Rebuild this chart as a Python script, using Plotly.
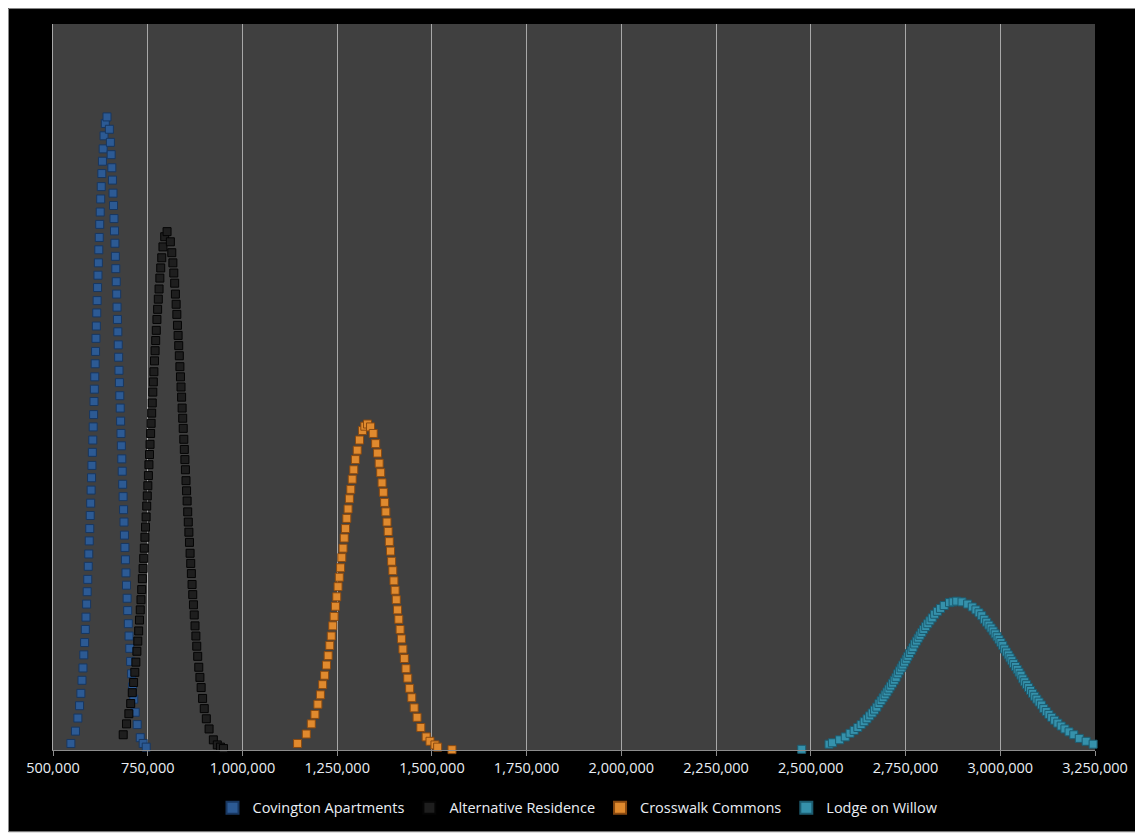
import plotly.graph_objects as go

# ---------------- data ----------------
tick_values = [500000, 750000, 1000000, 1250000, 1500000, 1750000, 2000000,
               2250000, 2500000, 2750000, 3000000, 3250000]
tick_labels = ["500,000", "750,000", "1,000,000", "1,250,000", "1,500,000",
               "1,750,000", "2,000,000", "2,250,000", "2,500,000", "2,750,000",
               "3,000,000", "3,250,000"]

series_names = ["Covington Apartments", "Alternative Residence",
                "Crosswalk Commons", "Lodge on Willow"]

covington_x = [547200, 559300, 565600, 570100, 573600, 576500, 579100, 581300, 583400, 585300,
               587000, 588700, 590200, 591700, 593100, 594400, 595700, 597000, 598200, 599400,
               600600, 601700, 602800, 603900, 605000, 606100, 607100, 608200, 609200, 610200,
               611300, 612300, 613400, 614400, 615500, 616500, 617600, 618700, 619800, 620900,
               622100, 623300, 624600, 625900, 627300, 628900, 630500, 632400, 634700, 638000,
               642500, 648800, 651500, 653500, 655300, 656900, 658400, 659700, 661000, 662300,
               663500, 664600, 665800, 666900, 668000, 669000, 670100, 671100, 672200, 673200,
               674200, 675300, 676300, 677400, 678400, 679500, 680500, 681600, 682700, 683900,
               685000, 686200, 687400, 688600, 689900, 691200, 692600, 694000, 695600, 697100,
               698800, 700700, 702600, 704800, 707200, 709900, 713100, 717000, 722200, 730300,
               738000, 746000]
covington_y = [0.9, 2.6, 4.4, 6.1, 7.8, 9.6, 11.3, 13.1, 14.8, 16.6,
               18.3, 20.1, 21.8, 23.5, 25.3, 27.0, 28.8, 30.5, 32.3, 34.0,
               35.8, 37.5, 39.2, 41.0, 42.7, 44.5, 46.2, 48.0, 49.7, 51.4,
               53.2, 54.9, 56.7, 58.4, 60.2, 61.9, 63.7, 65.4, 67.1, 68.9,
               70.6, 72.4, 74.1, 75.9, 77.6, 79.4, 81.1, 82.8, 84.6, 86.3,
               87.2, 85.5, 83.7, 82.0, 80.2, 78.5, 76.7, 75.0, 73.2, 71.5,
               69.8, 68.0, 66.3, 64.5, 62.8, 61.0, 59.3, 57.6, 55.8, 54.1,
               52.3, 50.6, 48.8, 47.1, 45.3, 43.6, 41.9, 40.1, 38.4, 36.6,
               34.9, 33.1, 31.4, 29.6, 27.9, 26.2, 24.4, 22.7, 20.9, 19.2,
               17.4, 15.7, 14.0, 12.2, 10.5, 8.7, 7.0, 5.2, 3.5, 1.7,
               0.9, 0.4]

alternative_x = [685300, 694000, 700200, 705100, 709200, 712700, 715900, 718700, 721400, 723800,
                 726100, 728200, 730300, 732200, 734100, 735900, 737700, 739400, 741000, 742600,
                 744200, 745800, 747300, 748800, 750300, 751800, 753200, 754700, 756100, 757600,
                 759000, 760400, 761900, 763400, 764800, 766300, 767900, 769400, 771000, 772600,
                 774300, 776100, 777900, 779900, 782000, 784300, 787000, 790200, 794800, 801000,
                 809800, 813500, 816400, 818800, 821100, 823100, 825000, 826800, 828500, 830200,
                 831800, 833400, 834900, 836400, 837900, 839400, 840800, 842300, 843700, 845200,
                 846600, 848100, 849500, 851000, 852500, 854000, 855500, 857000, 858600, 860200,
                 861800, 863500, 865200, 867000, 868800, 870700, 872700, 874800, 877100, 879400,
                 881900, 884700, 887700, 891000, 894800, 899200, 904700, 911900, 923200, 933600,
                 942000, 950000]
alternative_y = [2.1, 3.6, 5.0, 6.4, 7.9, 9.3, 10.7, 12.1, 13.6, 15.0,
                 16.4, 17.9, 19.3, 20.7, 22.1, 23.6, 25.0, 26.4, 27.8, 29.3,
                 30.7, 32.1, 33.6, 35.0, 36.4, 37.8, 39.3, 40.7, 42.1, 43.6,
                 45.0, 46.4, 47.8, 49.3, 50.7, 52.1, 53.6, 55.0, 56.4, 57.8,
                 59.3, 60.7, 62.1, 63.5, 65.0, 66.4, 67.8, 69.3, 70.7, 71.4,
                 70.0, 68.5, 67.1, 65.7, 64.3, 62.8, 61.4, 60.0, 58.5, 57.1,
                 55.7, 54.3, 52.8, 51.4, 50.0, 48.6, 47.1, 45.7, 44.3, 42.8,
                 41.4, 40.0, 38.6, 37.1, 35.7, 34.3, 32.8, 31.4, 30.0, 28.6,
                 27.1, 25.7, 24.3, 22.8, 21.4, 20.0, 18.6, 17.1, 15.7, 14.3,
                 12.9, 11.4, 10.0, 8.6, 7.1, 5.7, 4.3, 2.9, 1.4, 0.7,
                 0.4, 0.2]

crosswalk_x = [1145400, 1168500, 1181700, 1191300, 1199100, 1205800, 1211600, 1216800, 1221700, 1226200,
               1230400, 1234400, 1238200, 1241900, 1245400, 1248900, 1252300, 1255600, 1258900, 1262200,
               1265500, 1268700, 1272000, 1275400, 1278800, 1282300, 1285900, 1289700, 1293800, 1298100,
               1303000, 1308900, 1316700, 1323000, 1330000, 1338000, 1345100, 1351500, 1356500, 1360800,
               1364800, 1368400, 1371900, 1375200, 1378400, 1381500, 1384600, 1387600, 1390700, 1393700,
               1396700, 1399800, 1402900, 1406000, 1409300, 1412600, 1416000, 1419600, 1423400, 1427300,
               1431600, 1436200, 1441200, 1446800, 1453200, 1460900, 1470700, 1484800, 1495000, 1508000,
               1515100, 1553000]
crosswalk_y = [0.9, 2.2, 3.6, 4.9, 6.3, 7.6, 9.0, 10.3, 11.7, 13.0,
               14.4, 15.7, 17.1, 18.4, 19.8, 21.1, 22.5, 23.8, 25.1, 26.5,
               27.8, 29.2, 30.5, 31.9, 33.2, 34.6, 35.9, 37.3, 38.6, 40.0,
               41.3, 42.7, 44.0, 44.6, 44.9, 44.5, 43.6, 42.2, 40.9, 39.5,
               38.2, 36.8, 35.5, 34.1, 32.8, 31.4, 30.1, 28.7, 27.4, 26.0,
               24.7, 23.3, 22.0, 20.7, 19.3, 18.0, 16.6, 15.3, 13.9, 12.6,
               11.2, 9.9, 8.5, 7.2, 5.8, 4.5, 3.1, 1.8, 1.2, 0.7,
               0.4, 0.05]

lodge_x = [2476000, 2548000, 2557000, 2576000, 2590900, 2603500, 2614300, 2624000, 2632700, 2640800,
           2648300, 2655300, 2661900, 2668200, 2674200, 2679900, 2685500, 2690800, 2696100, 2701100,
           2706100, 2710900, 2715700, 2720300, 2725000, 2729500, 2734000, 2738500, 2742900, 2747300,
           2751800, 2756200, 2760600, 2765100, 2769600, 2774100, 2778700, 2783400, 2788100, 2793000,
           2798000, 2803200, 2808600, 2814300, 2820300, 2826800, 2834000, 2842100, 2851900, 2866000,
           2875500, 2885000, 2899000, 2913900, 2926100, 2935700, 2943800, 2951100, 2957800, 2964100,
           2970000, 2975700, 2981200, 2986500, 2991700, 2996700, 3001700, 3006600, 3011500, 3016300,
           3021100, 3025800, 3030600, 3035300, 3040100, 3044900, 3049700, 3054600, 3059500, 3064500,
           3069500, 3074700, 3079900, 3085300, 3090800, 3096500, 3102400, 3108500, 3114800, 3121400,
           3128300, 3135600, 3143400, 3151700, 3160700, 3170600, 3181500, 3194000, 3208600, 3226600,
           3245000]
lodge_y = [0.1, 0.8, 1.0, 1.4, 1.8, 2.3, 2.7, 3.1, 3.5, 3.9,
           4.3, 4.7, 5.1, 5.5, 5.9, 6.4, 6.8, 7.2, 7.6, 8.0,
           8.4, 8.8, 9.2, 9.6, 10.0, 10.5, 10.9, 11.3, 11.7, 12.1,
           12.5, 12.9, 13.3, 13.7, 14.1, 14.6, 15.0, 15.4, 15.8, 16.2,
           16.6, 17.0, 17.4, 17.8, 18.2, 18.7, 19.1, 19.5, 19.9, 20.3,
           20.4, 20.5, 20.4, 20.1, 19.7, 19.3, 18.9, 18.5, 18.0, 17.6,
           17.2, 16.8, 16.4, 16.0, 15.6, 15.2, 14.8, 14.4, 13.9, 13.5,
           13.1, 12.7, 12.3, 11.9, 11.5, 11.1, 10.7, 10.3, 9.8, 9.4,
           9.0, 8.6, 8.2, 7.8, 7.4, 7.0, 6.6, 6.2, 5.7, 5.3,
           4.9, 4.5, 4.1, 3.7, 3.3, 2.9, 2.5, 2.1, 1.6, 1.2,
           0.8]

# ---------------- styling ----------------
fills = ["#2C5A94", "#1E1E1E", "#E08A2E", "#3591AB"]
edges = ["#183760", "#050505", "#8A4A10", "#1C5C70"]
xs = [covington_x, alternative_x, crosswalk_x, lodge_x]
ys = [covington_y, alternative_y, crosswalk_y, lodge_y]

FONT = "Open Sans"
TEXT = "#eaeef4"

fig = go.Figure()
for name, x, y, fc, ec in zip(series_names, xs, ys, fills, edges):
    fig.add_trace(go.Scatter(
        x=x, y=y, mode="markers", name=name, cliponaxis=False,
        marker=dict(symbol="square", size=8, color=fc,
                    line=dict(color=ec, width=1)),
    ))

# the page body adds an 8px offset; figure coords = page coords - 8
W, H = 1135, 828
L, R, T, B = 45, 48, 16, 84           # plot area: page x 53..1095, y 24..752
PW, PH = W - L - R, H - T - B


def fx(p):  # figure px -> paper x
    return (p - L) / PW


def fy(p):  # figure px -> paper y
    return (H - B - p) / PH


shapes = [
    # white page strip under the black chart area
    dict(type="rect", xref="paper", yref="paper", x0=-0.2, x1=1.2,
         y0=fy(900), y1=fy(826), fillcolor="white", line=dict(width=0), layer="above"),
    # thin grey frame of the chart
    dict(type="rect", xref="paper", yref="paper", x0=fx(0.5), x1=fx(1200),
         y0=fy(826), y1=fy(0.5), line=dict(color="#8a8a8a", width=1), layer="above"),
]

fig.update_layout(
    width=W, height=H, autosize=False,
    margin=dict(l=L, r=R, t=T, b=B),
    paper_bgcolor="black", plot_bgcolor="#404040",
    font=dict(family=FONT, size=14.5, color=TEXT),
    showlegend=True,
    legend=dict(orientation="h", x=fx(570), xanchor="center",
                y=fy(802), yanchor="middle",
                font=dict(family=FONT, size=14.5, color=TEXT),
                bgcolor="rgba(0,0,0,0)", itemsizing="constant"),
    shapes=shapes,
    xaxis=dict(range=[500000, 3250000], tickvals=tick_values, ticktext=tick_labels,
               showgrid=True, gridcolor="#a8a8a8", gridwidth=1,
               showline=True, linecolor="#8c8c8c", linewidth=1,
               ticks="outside", ticklen=5, tickcolor="#8c8c8c",
               zeroline=False, tickfont=dict(family=FONT, size=14.5, color=TEXT)),
    yaxis=dict(range=[0, 100], showgrid=False, showticklabels=False,
               showline=True, linecolor="#a8a8a8", linewidth=1,
               zeroline=False, ticks=""),
)

fig.write_html("out.html")
